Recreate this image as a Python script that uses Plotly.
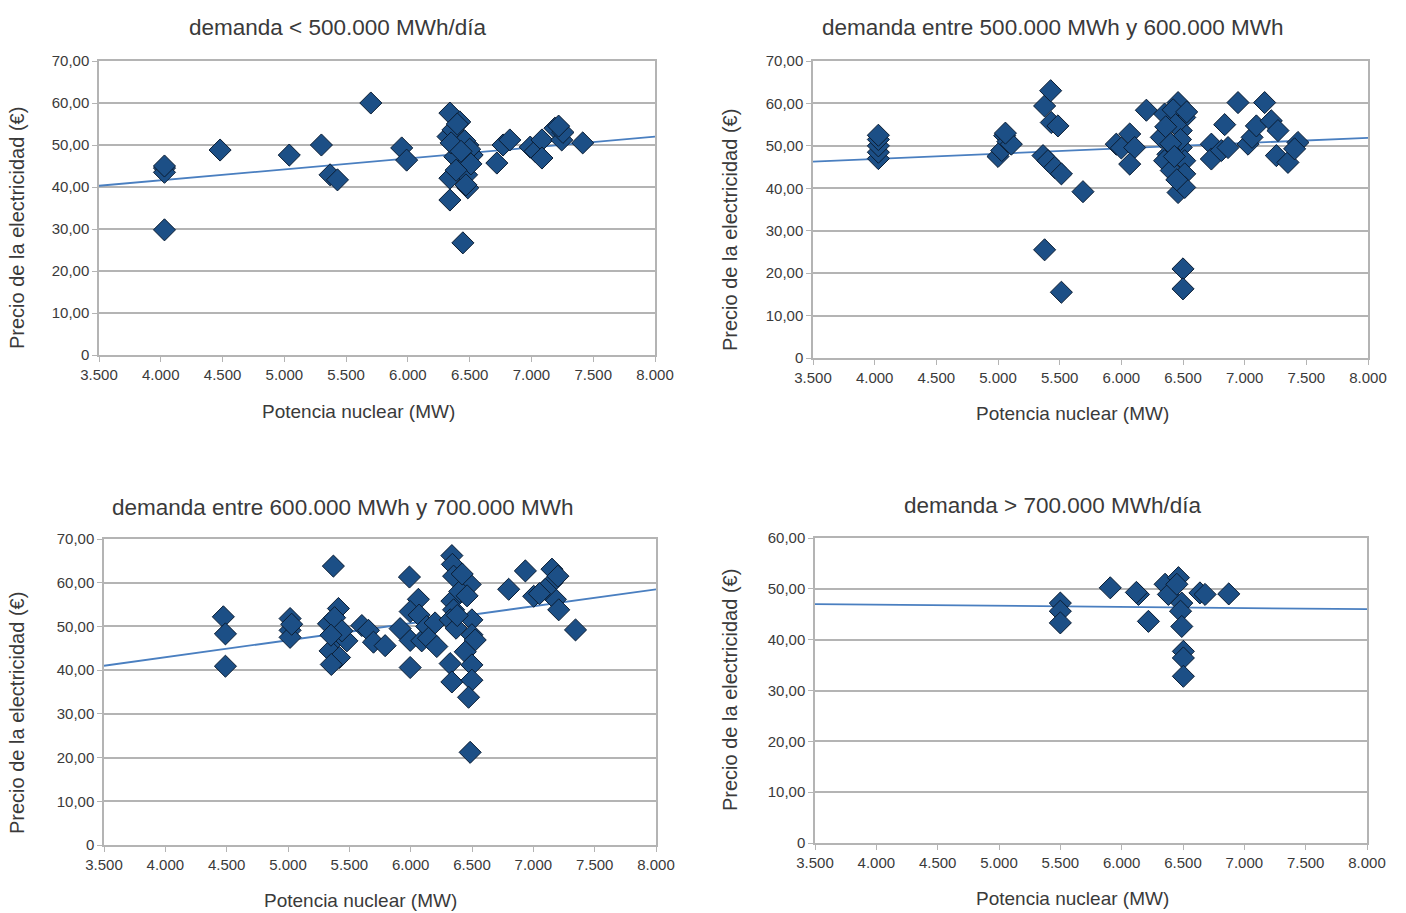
import plotly.graph_objects as go

# ---------------- data ----------------
titles = ["demanda < 500.000 MWh/día",
          "demanda entre 500.000 MWh y 600.000 MWh",
          "demanda entre 600.000 MWh y 700.000 MWh",
          "demanda > 700.000 MWh/día"]
x_title = "Potencia nuclear (MW)"
y_title = "Precio de la electricidad (€)"

x_tickvals = [3500, 4000, 4500, 5000, 5500, 6000, 6500, 7000, 7500, 8000]
x_ticktext = ["3.500", "4.000", "4.500", "5.000", "5.500", "6.000", "6.500", "7.000", "7.500", "8.000"]
y_tickvals_70 = [0, 10, 20, 30, 40, 50, 60, 70]
y_ticktext_70 = ["0", "10,00", "20,00", "30,00", "40,00", "50,00", "60,00", "70,00"]
y_tickvals_60 = [0, 10, 20, 30, 40, 50, 60]
y_ticktext_60 = ["0", "10,00", "20,00", "30,00", "40,00", "50,00", "60,00"]

p1_x = [4030, 4030, 4030, 4030, 4480, 5040, 5300, 5370, 5430, 5700, 5950, 5990,
        6340, 6420, 6325, 6365, 6485, 6380, 6520, 6445, 6340, 6475, 6485, 6340, 6445,
        6400, 6460, 6500, 6350, 6430, 6510, 6470, 6390,
        6720, 6770, 6825, 6990, 7030, 7085, 7085, 7190, 7245, 7255, 7220, 7415]
p1_y = [44.5, 43.5, 45.0, 29.8, 48.8, 47.6, 50.0, 42.9, 41.7, 60.0, 49.3, 46.4,
        57.6, 55.5, 52.0, 53.6, 50.0, 47.2, 47.6, 44.8, 42.1, 42.9, 39.8, 36.9, 26.7,
        55.0, 51.0, 49.0, 50.5, 48.5, 45.5, 40.5, 44.0,
        45.7, 50.0, 51.2, 49.5, 48.5, 51.2, 46.9, 54.0, 51.2, 53.0, 54.5, 50.5]

p2_x = [4030, 4030, 4030, 4030, 4030,
        5000, 5030, 5054, 5080, 5108, 5060,
        5365, 5378, 5427, 5432, 5486, 5405, 5460, 5514, 5378, 5514, 5689,
        5959, 6000, 6068, 6108, 6068, 6203,
        6460, 6351, 6514, 6486, 6324, 6486, 6378, 6351, 6514, 6405, 6514, 6460, 6514, 6500, 6500,
        6420, 6440, 6480, 6360, 6400, 6530, 6450, 6430,
        6730, 6730, 6811, 6838, 6865, 6946, 7027, 7060, 7095, 7162, 7216, 7270, 7257, 7351, 7432, 7405]
p2_y = [47.0, 48.5, 50.0, 51.5, 52.5,
        47.5, 48.9, 52.4, 51.0, 50.4, 53.0,
        47.7, 59.4, 63.0, 55.5, 54.7, 46.5, 44.9, 43.4, 25.5, 15.5, 39.2,
        50.4, 49.5, 52.8, 49.6, 45.7, 58.4,
        60.2, 57.5, 56.7, 53.6, 52.0, 49.6, 48.0, 46.5, 46.5, 44.2, 43.4, 39.0, 40.2, 21.0, 16.3,
        58.5, 55.0, 51.5, 54.5, 50.5, 58.0, 42.0, 47.5,
        50.4, 46.9, 48.9, 55.0, 49.6, 60.2, 50.4, 52.0, 54.7, 60.2, 55.9, 53.6, 47.7, 46.1, 50.8, 49.3]

p3_x = [4473, 4490, 4490, 5017, 5017, 5017, 5030,
        5370, 5411, 5330, 5400, 5480, 5343, 5420, 5353, 5380, 5440, 5350,
        5602, 5656, 5697, 5792, 5914, 5990, 6063, 5996, 6069, 5996, 5996, 6090, 6140, 6131, 6199, 6145, 6213,
        6322, 6336, 6336, 6340, 6350, 6485, 6336, 6350, 6322, 6499, 6370, 6499, 6526, 6445, 6499, 6499, 6472, 6485, 6400, 6420, 6460, 6380,
        6799, 6935, 7003, 7152, 7152, 7180, 7207, 7098, 7050, 7200, 7344]
p3_y = [52.2, 48.3, 40.9, 51.8, 49.1, 47.5, 50.5,
        63.8, 54.1, 50.6, 47.5, 46.7, 44.4, 42.9, 41.3, 52.0, 49.0, 48.0,
        50.2, 49.1, 46.4, 45.6, 49.5, 61.3, 56.2, 53.4, 52.6, 46.8, 40.6, 46.7, 49.8, 50.0, 50.8, 47.3, 45.4,
        41.5, 37.3, 66.2, 64.2, 61.5, 59.6, 55.8, 53.8, 51.5, 51.5, 49.6, 48.1, 46.9, 44.2, 41.2, 37.7, 33.8, 21.2, 58.0, 62.0, 57.0, 52.5,
        58.5, 62.7, 56.9, 63.1, 60.0, 56.2, 53.8, 58.5, 57.5, 61.5, 49.2]

p4_x = [5500, 5500, 5500, 5907, 6137, 6120, 6218, 6354, 6381, 6463, 6450, 6490, 6480, 6490,
        6503, 6503, 6503, 6638, 6680, 6873]
p4_y = [47.2, 45.6, 43.3, 50.2, 48.9, 49.3, 43.6, 50.9, 48.9, 52.2, 50.9, 47.2, 45.6, 42.6,
        37.7, 36.4, 32.8, 49.2, 48.9, 49.0]

trend_x = [3500, 8000]
trend1_y = [40.3, 52.0]
trend2_y = [46.3, 51.9]
trend3_y = [41.0, 58.5]
trend4_y = [47.0, 46.0]

# ---------------- figure ----------------
W, H = 1406, 913
FONT = "Liberation Sans, Arial, sans-serif"
TXT = "#3a3a3a"
GRID = "#b4b4b4"
MARK = "#1c4f86"
TREND = "#4a7fc0"

panels = [
    dict(x=p1_x, y=p1_y, ty=trend1_y, xd=(99, 655), yd=(61, 355), ymax=70,
         title_xy=(338, 28), ylab_xy=(17, 228), xlab_xy=(358, 411)),
    dict(x=p2_x, y=p2_y, ty=trend2_y, xd=(813, 1368), yd=(61, 358), ymax=70,
         title_xy=(1053, 27), ylab_xy=(730, 230), xlab_xy=(1072, 413)),
    dict(x=p3_x, y=p3_y, ty=trend3_y, xd=(104, 656), yd=(539, 845), ymax=70,
         title_xy=(343, 508), ylab_xy=(17, 713), xlab_xy=(360, 900)),
    dict(x=p4_x, y=p4_y, ty=trend4_y, xd=(815, 1367), yd=(538, 843), ymax=60,
         title_xy=(1053, 505), ylab_xy=(730, 690), xlab_xy=(1072, 898)),
]

fig = go.Figure()
annotations = []
layout = {}
for i, p in enumerate(panels, start=1):
    xa = "x" if i == 1 else f"x{i}"
    ya = "y" if i == 1 else f"y{i}"
    fig.add_trace(go.Scatter(
        x=trend_x, y=p["ty"], mode="lines", xaxis=xa, yaxis=ya,
        line=dict(color=TREND, width=1.8), showlegend=False, hoverinfo="skip"))
    fig.add_trace(go.Scatter(
        x=p["x"], y=p["y"], mode="markers", xaxis=xa, yaxis=ya,
        marker=dict(symbol="diamond", size=17, color=MARK,
                    line=dict(color="#0b1d33", width=1)),
        showlegend=False))
    xkey = "xaxis" if i == 1 else f"xaxis{i}"
    ykey = "yaxis" if i == 1 else f"yaxis{i}"
    if p["ymax"] == 70:
        yv, yt = y_tickvals_70, y_ticktext_70
    else:
        yv, yt = y_tickvals_60, y_ticktext_60
    layout[xkey] = dict(
        domain=[p["xd"][0] / W, p["xd"][1] / W], anchor=ya, automargin=False,
        range=[3500, 8000], tickvals=x_tickvals, ticktext=x_ticktext,
        showgrid=False, zeroline=False, showline=True, mirror=True,
        linecolor=GRID, linewidth=1.5, ticks="outside", ticklen=5,
        tickcolor=GRID, tickfont=dict(family=FONT, size=15, color=TXT))
    layout[ykey] = dict(
        domain=[1 - p["yd"][1] / H, 1 - p["yd"][0] / H], anchor=xa, automargin=False,
        range=[0, p["ymax"]], tickvals=yv, ticktext=yt,
        showgrid=True, gridcolor=GRID, gridwidth=1.8, zeroline=False,
        showline=True, mirror=True, linecolor=GRID, linewidth=1.5,
        ticks="outside", ticklen=5, tickcolor=GRID,
        tickfont=dict(family=FONT, size=15, color=TXT))
    annotations.append(dict(
        text=titles[i - 1], x=p["title_xy"][0] / W, y=1 - p["title_xy"][1] / H,
        xref="paper", yref="paper", showarrow=False, xanchor="center", yanchor="middle",
        font=dict(family=FONT, size=22.5, color=TXT)))
    annotations.append(dict(
        text=y_title, x=p["ylab_xy"][0] / W, y=1 - p["ylab_xy"][1] / H,
        xref="paper", yref="paper", showarrow=False, textangle=-90,
        xanchor="center", yanchor="middle",
        font=dict(family=FONT, size=20, color=TXT)))
    annotations.append(dict(
        text=x_title, x=p["xlab_xy"][0] / W, y=1 - p["xlab_xy"][1] / H,
        xref="paper", yref="paper", showarrow=False, xanchor="center", yanchor="middle",
        font=dict(family=FONT, size=19, color=TXT)))

fig.update_layout(
    width=W, height=H, margin=dict(l=0, r=0, t=0, b=0, autoexpand=False),
    paper_bgcolor="white", plot_bgcolor="white", hovermode=False,
    annotations=annotations, **layout)

fig.write_html("out.html", config={"displayModeBar": False},
               post_script="document.body.style.margin='0';document.body.style.padding='0';")
